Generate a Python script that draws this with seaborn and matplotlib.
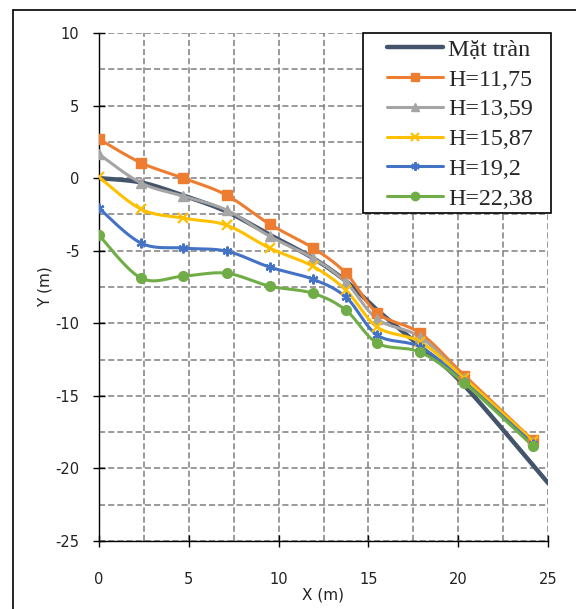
import numpy as np
import pandas as pd
import matplotlib
matplotlib.use("Agg")
import matplotlib.pyplot as plt
from matplotlib.lines import Line2D
from matplotlib.patches import Rectangle
from matplotlib.ticker import MultipleLocator
import seaborn as sns

# ---- data ----
x_pts = [0, 2.35, 4.7, 7.1, 9.5, 11.9, 13.75, 15.5, 17.9, 20.35, 24.15]
x_tran = [0, 2.35, 4.7, 7.1, 9.5, 11.9, 13.75, 15.5, 17.9, 20.35, 25]
y_tran = [0, -0.3, -1.2, -2.3, -3.9, -5.5, -7.1, -9.1, -11.6, -14.3, -21.0]
y_1175 = [2.69, 1.05, 0.0, -1.17, -3.17, -4.8, -6.55, -9.3, -10.7, -13.6, -18.05]
y_1359 = [1.65, -0.34, -1.24, -2.2, -4.0, -5.5, -7.17, -9.72, -10.96, -13.8, -18.2]
y_1587 = [0.07, -2.14, -2.76, -3.24, -4.82, -6.07, -7.72, -10.27, -11.3, -13.8, -18.1]
y_192 = [-2.07, -4.48, -4.82, -5.03, -6.13, -6.96, -8.2, -10.82, -11.65, -14.05, -18.3]
y_2238 = [-3.93, -6.89, -6.75, -6.55, -7.44, -7.93, -9.1, -11.37, -12.0, -14.13, -18.45]
labels = ["Mặt tràn", "H=11,75", "H=13,59", "H=15,87", "H=19,2", "H=22,38"]
colors = ["#44546A", "#ED7D31", "#A5A5A5", "#FFC000", "#4472C4", "#70AD47"]
markers = [None, "s", "^", "x", (6, 2, 0), "o"]


def smooth(xs, ys, n=30):
    """Catmull-Rom curve through points (like Excel smoothed lines)."""
    P = np.column_stack([xs, ys]).astype(float)
    P = np.vstack([P[0], P, P[-1]])
    out = []
    t = np.linspace(0, 1, n, endpoint=False)
    for i in range(1, len(P) - 2):
        p0, p1, p2, p3 = P[i - 1], P[i], P[i + 1], P[i + 2]
        c1 = p1 + (p2 - p0) / 6.0
        c2 = p2 - (p3 - p1) / 6.0
        seg = ((1 - t) ** 3)[:, None] * p1 + (3 * (1 - t) ** 2 * t)[:, None] * c1 \
            + (3 * (1 - t) * t ** 2)[:, None] * c2 + (t ** 3)[:, None] * p2
        out.append(seg)
    out.append(P[-2][None, :])
    S = np.vstack(out)
    return S[:, 0], S[:, 1]


sns.set_style("white")
plt.rcParams["font.family"] = ["DejaVu Sans"]
plt.rcParams["axes.unicode_minus"] = False

fig = plt.figure(figsize=(5.76, 6.09), dpi=100)
ax = fig.add_axes([99 / 576, 1 - 541 / 609, (548 - 99) / 576, (541 - 33) / 609])

series = [(x_tran, y_tran), (x_pts, y_1175), (x_pts, y_1359), (x_pts, y_1587),
          (x_pts, y_192), (x_pts, y_2238)]
handles = []
for i, ((xs, ys), lab, col, mk) in enumerate(zip(series, labels, colors, markers)):
    sx, sy = smooth(xs, ys)
    lw = 3.2 if i == 0 else 2.2
    sns.lineplot(x=sx, y=sy, sort=False, ax=ax, color=col, lw=lw, zorder=2 + i)
    mew = 1.6 if mk in ("x", (6, 2, 0)) else 1
    if mk is not None:
        df = pd.DataFrame({"x": xs, "y": ys})
        ax.plot(df["x"], df["y"], linestyle="none", marker=mk, color=col,
                markersize=7, markeredgewidth=mew, zorder=10 + i)
    handles.append(Line2D([], [], color=col, lw=lw, marker=mk, markersize=6,
                          markeredgewidth=mew))

ax.set_xlim(0, 25)
ax.set_ylim(-25, 10)
ax.xaxis.set_major_locator(MultipleLocator(5))
ax.yaxis.set_major_locator(MultipleLocator(5))
ax.xaxis.set_minor_locator(MultipleLocator(2.5))
ax.yaxis.set_minor_locator(MultipleLocator(2.5))
ax.grid(True, which="both", color="#7F7F7F", linestyle=(0, (4, 2)), linewidth=1.1)
ax.set_axisbelow(True)
for s in ["top", "right"]:
    ax.spines[s].set_visible(False)
for s in ["left", "bottom"]:
    ax.spines[s].set_color("black")
    ax.spines[s].set_linewidth(1.0)
ax.tick_params(axis="both", which="major", direction="inout", length=8, width=1,
               color="black", labelsize=10.5, labelcolor="#222222", left=True, bottom=True)
ax.tick_params(axis="y", which="major", pad=10)
ax.tick_params(axis="x", which="major", pad=18)
ax.tick_params(axis="both", which="minor", length=0)
ax.set_xlabel("X (m)", fontsize=11, color="#222222", labelpad=1)
ax.set_ylabel("Y (m)", fontsize=11, color="#222222", labelpad=2)

# legend frame drawn at the reference position, entries placed inside it
frame = Rectangle(((363 - 99) / 449, 1 - (213 - 33) / 508), (551 - 363) / 449, (213 - 33) / 508,
                  transform=ax.transAxes, facecolor="white", edgecolor="black", lw=1.2,
                  zorder=28, clip_on=False)
ax.add_patch(frame)
leg = ax.legend(handles, labels, loc="upper left",
                bbox_to_anchor=((387 - 99) / 449, 1 - (39 - 33) / 508),
                prop={"family": "Liberation Serif", "size": 17.3}, frameon=False,
                handlelength=2.35, handletextpad=0.2, labelspacing=0.33, borderpad=0,
                borderaxespad=0)
leg.set_zorder(30)

# figure frame (left and top edges)
fig.add_artist(Line2D([13 / 576, 13 / 576], [0, 1 - 10 / 609], transform=fig.transFigure,
                      color="black", lw=1.2))
fig.add_artist(Line2D([13 / 576, 1], [1 - 10 / 609, 1 - 10 / 609], transform=fig.transFigure,
                      color="black", lw=1.2))

fig.savefig("out.png", dpi=100)
